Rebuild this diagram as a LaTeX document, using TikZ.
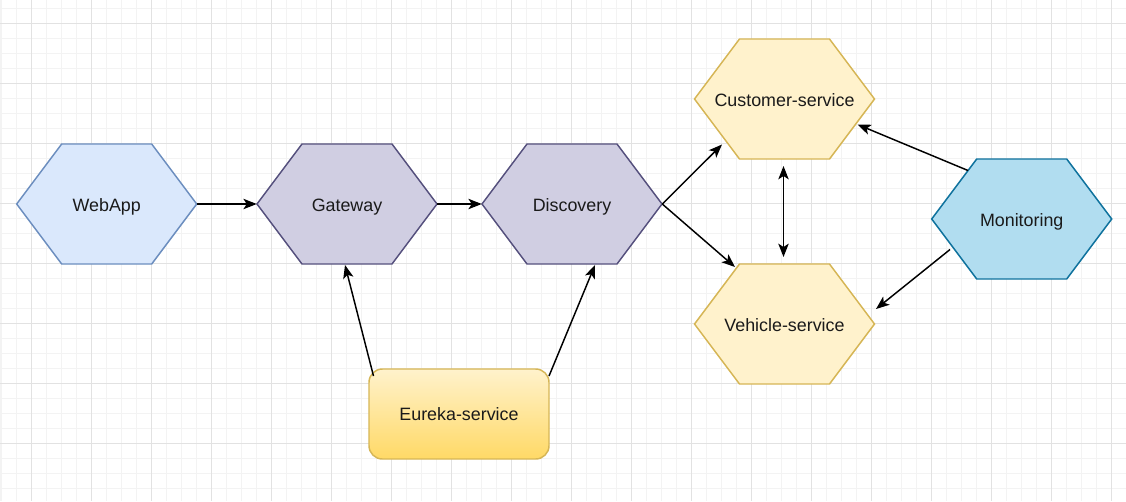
\documentclass[tikz,border=0pt]{standalone}
\usepackage{fontspec}
\setmainfont{Liberation Sans}
\usetikzlibrary{arrows.meta,calc}
\definecolor{gridminor}{HTML}{F3F3F3}
\definecolor{gridmajor}{HTML}{E2E2E2}
\definecolor{blueF}{HTML}{DAE8FC}
\definecolor{blueS}{HTML}{6C8EBF}
\definecolor{purpF}{HTML}{D0CEE2}
\definecolor{purpS}{HTML}{56517E}
\definecolor{yelF}{HTML}{FFF2CC}
\definecolor{yelS}{HTML}{D6B656}
\definecolor{yelG}{HTML}{FFD966}
\definecolor{cyanF}{HTML}{B1DDF0}
\definecolor{cyanS}{HTML}{10739E}
\definecolor{txt}{HTML}{1A1A1A}
\newcommand{\hexshape}[3]{%
  \path[#3] (#1-90,#2) -- (#1-45,#2-60) -- (#1+45,#2-60) -- (#1+90,#2) -- (#1+45,#2+60) -- (#1-45,#2+60) -- cycle;}
\tikzset{
  minorline/.style={draw=gridminor, line width=1.2pt},
  majorline/.style={draw=gridmajor, line width=0.75pt},
  hexblue/.style={fill=blueF, draw=blueS, line width=1.1pt},
  hexpurp/.style={fill=purpF, draw=purpS, line width=1.1pt},
  hexyel/.style={fill=yelF, draw=yelS, line width=1.1pt},
  hexcyan/.style={fill=cyanF, draw=cyanS, line width=1.1pt},
  lbl/.style={minimum width=135pt, minimum height=90pt, inner sep=0pt, text height=10.5pt, text depth=0pt,
    text=txt, font=\fontsize{13.4}{16}\selectfont},
  eurekabox/.style={rounded corners=10pt, top color=yelF, bottom color=yelG, draw=yelS, line width=1.1pt,
    minimum width=135pt, minimum height=67.5pt, inner sep=0pt, text height=10pt, text depth=0pt,
    text=txt, font=\fontsize{13.4}{16}\selectfont},
  tip/.style={Stealth[length=10pt,width=7.8pt,inset=2.5pt]},
  conn/.style={draw=black, line width=1.1pt, -{Stealth[length=10pt,width=7.8pt,inset=2.5pt]}},
  biconn/.style={draw=black, line width=1.1pt, {Stealth[length=10pt,width=7.8pt,inset=2.5pt]}-{Stealth[length=10pt,width=7.8pt,inset=2.5pt]}}
}
\begin{document}
\begin{tikzpicture}[x=0.75pt,y=-0.75pt]
\useasboundingbox (0,0) rectangle (1126,501);
\fill[white] (0,0) rectangle (1126,501);
% grid
\foreach \i in {0,...,75} \draw[minorline] ({1.3+15*\i},0) -- ({1.3+15*\i},501);
\foreach \j in {0,...,33} \draw[minorline] (0,{8.3+15*\j}) -- (1126,{8.3+15*\j});
\foreach \i in {0,...,18} \draw[majorline] ({31.3+60*\i},0) -- ({31.3+60*\i},501);
\foreach \j in {0,...,7} \draw[majorline] (0,{23.3+60*\j}) -- (1126,{23.3+60*\j});
% hexagons
\hexshape{106.7}{204}{hexblue}
\hexshape{347}{204}{hexpurp}
\hexshape{572}{204}{hexpurp}
\hexshape{784.5}{99}{hexyel}
\hexshape{784.5}{324}{hexyel}
\hexshape{1021.7}{219}{hexcyan}
\node[lbl] (webapp) at (106.7,204) {WebApp};
\node[lbl] (gateway) at (347,204) {Gateway};
\node[lbl] (discovery) at (572,204) {Discovery};
\node[lbl] (customer) at (784.5,99) {Customer-service};
\node[lbl] (vehicle) at (784.5,324) {Vehicle-service};
\node[lbl] (monitoring) at (1021.7,219) {Monitoring};
\node[eurekabox] (eureka) at (459,414) {Eureka-service};
% free connector ends
\coordinate (custIn) at (722,144.5);
\coordinate (vehIn) at (735,267);
\coordinate (custBot) at (783.5,166);
\coordinate (vehTop) at (783.5,257);
\coordinate (monA) at (968,170.5);
\coordinate (custR) at (857.5,124.5);
\coordinate (monB) at (950,249.5);
\coordinate (vehR) at (876,309);
\coordinate (eurA) at (373.5,376);
\coordinate (gateB) at (345,265);
\coordinate (eurB) at (549,376);
\coordinate (discB) at (595,265);
% connectors
\draw[conn] (webapp.east) -- (gateway.west);
\draw[conn] (gateway.east) -- (discovery.west);
\draw[conn] (discovery.east) -- (custIn);
\draw[conn] (discovery.east) -- (vehIn);
\draw[biconn] (custBot) -- (vehTop);
\draw[conn] (monA) -- (custR);
\draw[conn] (monB) -- (vehR);
\draw[conn] (eurA) -- (gateB);
\draw[conn] (eurB) -- (discB);
\end{tikzpicture}
\end{document}
